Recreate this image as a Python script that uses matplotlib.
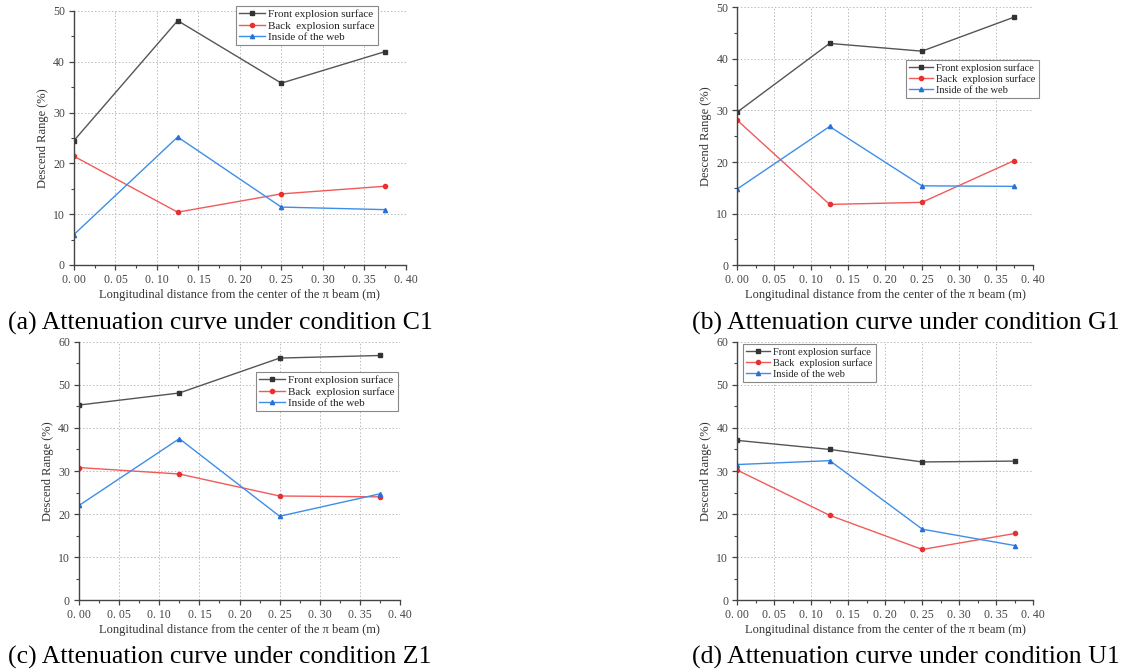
import matplotlib.pyplot as plt
import numpy as np

# x positions (m) shared by all four panels
x_dist = [0.0, 0.125, 0.25, 0.375]

# (a) condition C1
c1_front = [24.5, 48.1, 35.8, 42.0]
c1_back = [21.4, 10.4, 14.0, 15.5]
c1_web = [6.0, 25.2, 11.4, 10.9]

# (b) condition G1
g1_front = [29.7, 43.0, 41.5, 48.1]
g1_back = [28.1, 11.8, 12.2, 20.3]
g1_web = [14.8, 26.9, 15.4, 15.3]

# (c) condition Z1
z1_front = [45.3, 48.1, 56.2, 56.8]
z1_back = [30.8, 29.3, 24.2, 24.0]
z1_web = [22.0, 37.5, 19.5, 24.7]

# (d) condition U1
u1_front = [37.1, 35.0, 32.1, 32.3]
u1_back = [30.2, 19.7, 11.8, 15.5]
u1_web = [31.5, 32.4, 16.5, 12.7]

series_names = ["Front explosion surface", "Back  explosion surface", "Inside of the web"]
captions = ["(a) Attenuation curve under condition C1",
            "(b) Attenuation curve under condition G1",
            "(c) Attenuation curve under condition Z1",
            "(d) Attenuation curve under condition U1"]
x_ticks = [0.0, 0.05, 0.10, 0.15, 0.20, 0.25, 0.30, 0.35, 0.40]
x_ticklabels = ["0. 00", "0. 05", "0. 10", "0. 15", "0. 20", "0. 25", "0. 30", "0. 35", "0. 40"]

W, H = 1126, 670
plt.rcParams['font.family'] = ['Liberation Serif', 'DejaVu Serif']
fig = plt.figure(figsize=(W / 100, H / 100), dpi=100)


def fr(x0, y0, x1, y1):
    # pixel box -> figure fraction rect
    return [x0 / W, 1 - y1 / H, (x1 - x0) / W, (y1 - y0) / H]


panels = [
    (fr(74, 11, 405.7, 265), 50, (c1_front, c1_back, c1_web), (236, 6), 8.0),
    (fr(737.3, 7.3, 1032.7, 265.3), 50, (g1_front, g1_back, g1_web), (906, 60), 7.5),
    (fr(79, 341.7, 400, 600.3), 60, (z1_front, z1_back, z1_web), (256, 372), 8.0),
    (fr(737.3, 341.7, 1033.3, 600.3), 60, (u1_front, u1_back, u1_web), (743, 344), 7.5),
]
styles = [("#555555", "s", "#333333"), ("#f25a5a", "o", "#e83030"), ("#3d8ee8", "^", "#2a6fd6")]
tick_col = "#444444"

for rect, ymax, data, leg_xy, leg_fs in panels:
    ax = fig.add_axes(rect)
    for vals, name, (col, mk, mcol) in zip(data, series_names, styles):
        ax.plot(x_dist, vals, color=col, lw=1.0, marker=mk, ms=3,
                mfc=mcol, mec=mcol, label=name)
    ax.set_xlim(0, 0.40)
    ax.set_ylim(0, ymax)
    ax.set_xticks(x_ticks)
    ax.set_xticklabels(x_ticklabels)
    ax.set_yticks(np.arange(0, ymax + 1, 10))
    ax.set_xticks(np.arange(0.025, 0.40, 0.05), minor=True)
    ax.set_yticks(np.arange(5, ymax, 10), minor=True)
    ax.grid(True, which='major', color="#bbbbbb", ls=(0, (1.5, 2)), lw=0.7)
    ax.spines['top'].set_visible(False)
    ax.spines['right'].set_visible(False)
    for s in ('left', 'bottom'):
        ax.spines[s].set_color(tick_col)
        ax.spines[s].set_linewidth(1.0)
    ax.tick_params(which='major', direction='out', length=3.5, width=0.9,
                   colors=tick_col, labelsize=8.5, pad=3)
    ax.tick_params(which='minor', direction='out', length=2, width=0.8, colors=tick_col)
    ax.set_xlabel("Longitudinal distance from the center of the \u03c0 beam (m)",
                  fontsize=9, color="#333333", labelpad=2)
    ax.set_ylabel("Descend Range (%)", fontsize=9, color="#333333", labelpad=3)
    leg = ax.legend(loc='upper left', bbox_to_anchor=(leg_xy[0] / W, 1 - leg_xy[1] / H),
                    bbox_transform=fig.transFigure, borderaxespad=0, fontsize=leg_fs,
                    handlelength=2.3, handletextpad=0.3, labelspacing=0.15,
                    borderpad=0.3, fancybox=False, framealpha=1, edgecolor="#888888")
    leg.get_frame().set_linewidth(0.8)
    for t in leg.get_texts():
        t.set_color("#222222")

# captions: left column left-aligned, right column right-aligned
cap_pos = [(8, 323, 'left'), (1120, 323, 'right'), (8, 657, 'left'), (1120, 657, 'right')]
for (cx, cy, ha), cap in zip(cap_pos, captions):
    fig.text(cx / W, 1 - cy / H, cap, fontsize=18.5, va='center', ha=ha)

fig.savefig("out.png", dpi=100)
